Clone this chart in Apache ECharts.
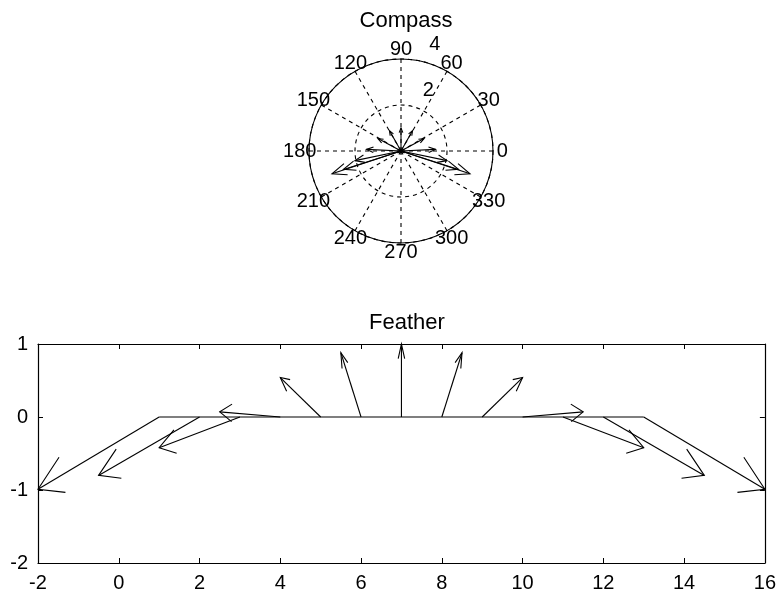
<!DOCTYPE html>
<html>
<head>
<meta charset="utf-8">
<script src="https://cdn.jsdelivr.net/npm/echarts@6/dist/echarts.min.js"></script>
<style>
html,body{margin:0;padding:0;background:#fff;}
#chart{width:779px;height:595px;}
</style>
</head>
<body>
<div id="chart"></div>
<script>
// ---- data ----
const featherX = [1, 2, 3, 4, 5, 6, 7, 8, 9, 10, 11, 12, 13];
const uVals = [-3, -2.5, -2, -1.5, -1, -0.5, 0, 0.5, 1, 1.5, 2, 2.5, 3];
const vVals = [-0.99, -0.80, -0.42, 0.07, 0.54, 0.88, 1.00, 0.88, 0.54, 0.07, -0.42, -0.80, -0.99];
const angleTicks = [0, 30, 60, 90, 120, 150, 180, 210, 240, 270, 300, 330];
const ringTicks = [2, 4];
const featherXTicks = [-2, 0, 2, 4, 6, 8, 10, 12, 14, 16];
const featherYTicks = [-2, -1, 0, 1];

const FONT = 'Liberation Sans, Arial, Helvetica, sans-serif';
const BLACK = '#000';

const chart = echarts.init(document.getElementById('chart'), null, {renderer: 'canvas'});

function polarPt(api, x, y) {
  let a = Math.atan2(y, x) * 180 / Math.PI;
  if (a < 0) a += 360;
  return api.coord([Math.hypot(x, y), a]);
}

function arrowShapes(p0, tip, b1, b2) {
  return [
    {type: 'polyline', shape: {points: [p0, tip]}, style: {stroke: BLACK, fill: null, lineWidth: 1.1}},
    {type: 'polyline', shape: {points: [b1, tip, b2]}, style: {stroke: BLACK, fill: null, lineWidth: 1.1}}
  ];
}

const option = {
  backgroundColor: '#fff',
  animation: false,
  title: [
    {text: 'Compass', left: 401, top: 5, textAlign: 'center',
     textStyle: {fontFamily: FONT, fontSize: 22, fontWeight: 'normal', color: BLACK}},
    {text: 'Feather', left: 402, top: 307, textAlign: 'center',
     textStyle: {fontFamily: FONT, fontSize: 22, fontWeight: 'normal', color: BLACK}}
  ],
  polar: {center: [401, 151], radius: 92},
  angleAxis: {
    type: 'value', min: 0, max: 360, interval: 30, startAngle: 0, clockwise: false,
    axisLine: {show: true, lineStyle: {color: BLACK, width: 1.1}},
    axisTick: {show: false},
    axisLabel: {show: false},
    splitLine: {show: true, lineStyle: {color: BLACK, width: 1.1, type: [4, 4]}}
  },
  radiusAxis: {
    type: 'value', min: 0, max: 4, interval: 2,
    axisLine: {show: false}, axisTick: {show: false}, axisLabel: {show: false},
    splitLine: {show: true, lineStyle: {color: BLACK, width: 1.1, type: [4, 4]}}
  },
  grid: {left: 38, right: 13, top: 344, bottom: 32, containLabel: false},
  xAxis: [
    {type: 'value', min: featherXTicks[0], max: featherXTicks[featherXTicks.length - 1], interval: 2,
     position: 'bottom',
     axisLine: {show: true, onZero: false, lineStyle: {color: BLACK, width: 1.2}},
     axisTick: {show: true, inside: true, length: 5, lineStyle: {color: BLACK}},
     axisLabel: {show: true, margin: 10, color: BLACK, fontFamily: FONT, fontSize: 20},
     splitLine: {show: false}},
    {type: 'value', min: featherXTicks[0], max: featherXTicks[featherXTicks.length - 1], interval: 2,
     position: 'top',
     axisLine: {show: true, onZero: false, lineStyle: {color: BLACK, width: 1.2}},
     axisTick: {show: true, inside: true, length: 5, lineStyle: {color: BLACK}},
     axisLabel: {show: false}, splitLine: {show: false}}
  ],
  yAxis: [
    {type: 'value', min: featherYTicks[0], max: featherYTicks[featherYTicks.length - 1], interval: 1,
     position: 'left',
     axisLine: {show: true, onZero: false, lineStyle: {color: BLACK, width: 1.2}},
     axisTick: {show: true, inside: true, length: 5, lineStyle: {color: BLACK}},
     axisLabel: {show: true, margin: 10, color: BLACK, fontFamily: FONT, fontSize: 20},
     splitLine: {show: false}},
    {type: 'value', min: featherYTicks[0], max: featherYTicks[featherYTicks.length - 1], interval: 1,
     position: 'right',
     axisLine: {show: true, onZero: false, lineStyle: {color: BLACK, width: 1.2}},
     axisTick: {show: true, inside: true, length: 5, lineStyle: {color: BLACK}},
     axisLabel: {show: false}, splitLine: {show: false}}
  ],
  series: [
    // compass angle labels
    {
      type: 'custom', coordinateSystem: 'polar', silent: true,
      data: angleTicks,
      renderItem: function (params, api) {
        const a = api.value(0);
        const p = api.coord([4.4, a]);
        return {type: 'text', x: p[0], y: p[1],
          style: {text: String(a), fill: BLACK, font: '20px ' + FONT, align: 'center', verticalAlign: 'middle'}};
      }
    },
    // compass ring labels
    {
      type: 'custom', coordinateSystem: 'polar', silent: true,
      data: ringTicks,
      renderItem: function (params, api) {
        const r = api.value(0);
        const p = api.coord([r, 82]);
        return {type: 'text', x: p[0] + 21, y: p[1] - 15,
          style: {text: String(r), fill: BLACK, font: '20px ' + FONT, align: 'center', verticalAlign: 'middle'}};
      }
    },
    // compass arrows
    {
      type: 'custom', coordinateSystem: 'polar', silent: true,
      data: uVals.map((u, i) => [u, vVals[i]]),
      renderItem: function (params, api) {
        const u = api.value(0), v = api.value(1);
        const o = polarPt(api, 0, 0);
        const tip = polarPt(api, u, v);
        const b1 = polarPt(api, 0.8 * u - 0.08 * v, 0.8 * v + 0.08 * u);
        const b2 = polarPt(api, 0.8 * u + 0.08 * v, 0.8 * v - 0.08 * u);
        return {type: 'group', children: arrowShapes(o, tip, b1, b2)};
      }
    },
    // feather baseline
    {
      type: 'line', xAxisIndex: 0, yAxisIndex: 0, silent: true, symbol: 'none',
      data: [[featherX[0], 0], [featherX[featherX.length - 1], 0]],
      lineStyle: {color: BLACK, width: 1.1}
    },
    // feather arrows
    {
      type: 'custom', xAxisIndex: 0, yAxisIndex: 0, silent: true, clip: false,
      data: featherX.map((x, i) => [x, uVals[i], vVals[i]]),
      encode: {x: 0, y: 2},
      renderItem: function (params, api) {
        const x = api.value(0), u = api.value(1), v = api.value(2);
        const p0 = api.coord([x, 0]);
        const tip = api.coord([x + u, v]);
        const b1 = api.coord([x + 0.8 * u - 0.08 * v, 0.8 * v + 0.08 * u]);
        const b2 = api.coord([x + 0.8 * u + 0.08 * v, 0.8 * v - 0.08 * u]);
        return {type: 'group', children: arrowShapes(p0, tip, b1, b2)};
      }
    }
  ]
};
chart.setOption(option);
</script>
</body>
</html>
